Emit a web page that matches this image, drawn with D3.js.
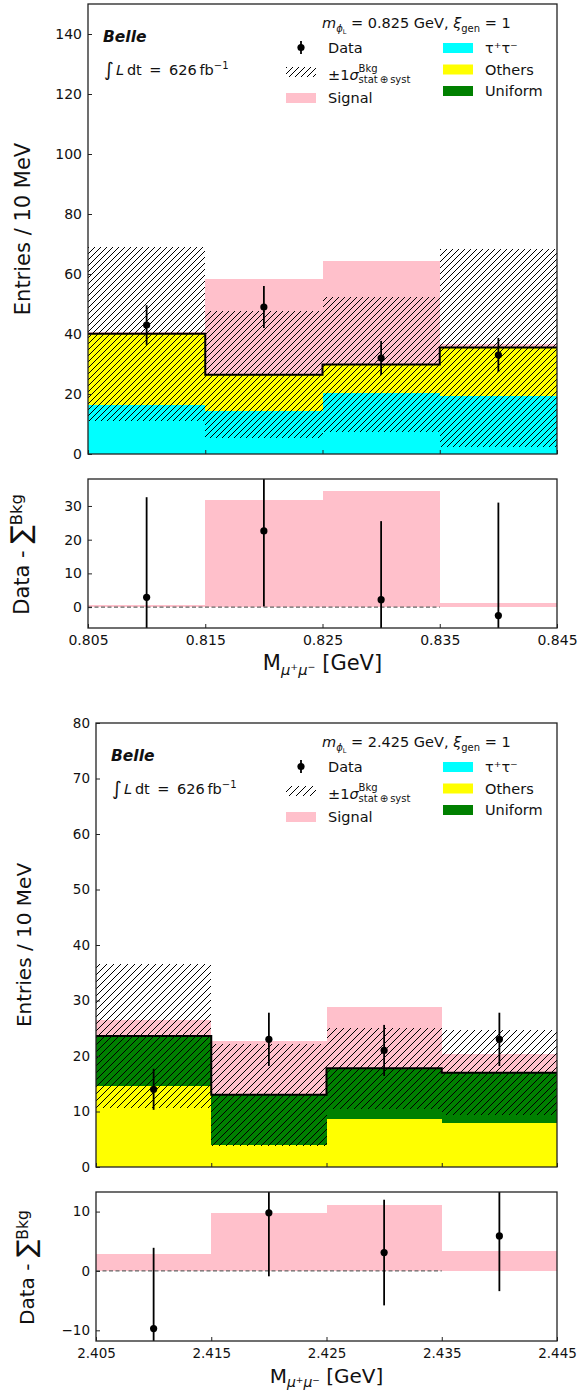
<!DOCTYPE html>
<html><head><meta charset="utf-8">
<script src="https://cdn.jsdelivr.net/npm/d3@7"></script>
<style>body{margin:0;background:#fff} text{font-family:'DejaVu Sans',sans-serif;fill:#111}</style>
</head><body><svg id="c" width="578" height="1390"></svg>
<script>
// ---------- Figure 1 data (m = 0.825 GeV) ----------
const binEdges1 = [0.805, 0.815, 0.825, 0.835, 0.845];
const tautau1 = [16.5, 14.3, 20.3, 19.4];
const others1 = [23.6, 12.1, 9.5, 16.1];
const uniform1 = [0, 0, 0, 0];
const bkgSigma1 = [29.0, 21.2, 22.6, 33.0];
const signal1 = [0.7, 31.8, 34.5, 1.2];
const data1 = [43, 49, 32, 33];
const dataErr1 = [6.6, 7.0, 5.7, 5.7];
const resid1 = [2.9, 22.6, 2.2, -2.5];
const residErr1 = [29.7, 22.4, 23.3, 33.5];
const yTicksMain1 = [0, 20, 40, 60, 80, 100, 120, 140];
const yTicksRatio1 = [0, 10, 20, 30];
const xTickLabels1 = ["0.805", "0.815", "0.825", "0.835", "0.845"];
const massLabel1 = "0.825";

// ---------- Figure 2 data (m = 2.425 GeV) ----------
const binEdges2 = [2.405, 2.415, 2.425, 2.435, 2.445];
const tautau2 = [0, 0, 0, 0];
const others2 = [14.6, 4.0, 8.7, 8.0];
const uniform2 = [9.0, 9.0, 9.1, 9.0];
const bkgSigma2 = [13.0, 9.2, 7.3, 7.6];
const signal2 = [2.8, 9.7, 11.1, 3.4];
const data2 = [14, 23, 21, 23];
const dataErr2 = [3.7, 4.8, 4.6, 4.8];
const resid2 = [-9.7, 9.8, 3.1, 5.9];
const residErr2 = [13.6, 10.7, 8.9, 9.3];
const yTicksMain2 = [0, 10, 20, 30, 40, 50, 60, 70, 80];
const yTicksRatio2 = [-10, 0, 10];
const xTickLabels2 = ["2.405", "2.415", "2.425", "2.435", "2.445"];
const massLabel2 = "2.425";

const COLORS = {tau: "#00ffff", oth: "#ffff00", uni: "#008000", sig: "#ffc0cb"};

const svg = d3.select("#c");
svg.append("rect").attr("width", 578).attr("height", 1390).attr("fill", "#fff");
const defs = svg.append("defs");

function hatchPattern(id, s) {
  const p = defs.append("pattern").attr("id", id).attr("patternUnits", "userSpaceOnUse")
    .attr("width", s).attr("height", s);
  p.append("path")
    .attr("d", `M0,${s} L${s},0 M${-s/2},${s/2} L${s/2},${-s/2} M${s/2},${s*1.5} L${s*1.5},${s/2}`)
    .attr("stroke", "#000").attr("stroke-width", 1).attr("fill", "none");
}
hatchPattern("h1", 6);
hatchPattern("h2", 7);

function richText(parent, x, y, segs, opts = {}) {
  const t = parent.append("text").attr("x", x).attr("y", y);
  if (opts.anchor) t.attr("text-anchor", opts.anchor);
  if (opts.transform) t.attr("transform", opts.transform);
  let cur = 0;
  const nodes = [];
  segs.forEach(s => {
    const sh = s.shift || 0;
    const ts = t.append("tspan").text(s.t).attr("font-size", s.size).attr("dy", -(sh - cur));
    cur = sh;
    if (s.italic) ts.attr("font-style", "italic");
    if (s.bold) ts.attr("font-weight", "bold");
    if (s.dx !== undefined) ts.attr("dx", s.dx);
    nodes.push(ts);
  });
  return {t, nodes};
}

function drawFigure(cfg, idx) {
  const g = svg.append("g");
  const E = cfg.edges;
  const x = d3.scaleLinear().domain([E[0], E[4]]).range([cfg.left, cfg.right]);
  const y = d3.scaleLinear().domain(cfg.mainY).range([cfg.mainBottom, cfg.mainTop]);
  const yr = d3.scaleLinear().domain(cfg.ratioY).range([cfg.ratioBottom, cfg.ratioTop]);

  const clipM = "clipM" + idx, clipR = "clipR" + idx;
  defs.append("clipPath").attr("id", clipM).append("rect")
    .attr("x", cfg.left).attr("y", cfg.mainTop).attr("width", cfg.right - cfg.left).attr("height", cfg.mainBottom - cfg.mainTop);
  defs.append("clipPath").attr("id", clipR).append("rect")
    .attr("x", cfg.left).attr("y", cfg.ratioTop).attr("width", cfg.right - cfg.left).attr("height", cfg.ratioBottom - cfg.ratioTop);

  const bins = d3.range(4).map(i => ({
    i, x0: E[i], x1: E[i + 1], tau: cfg.tau[i], oth: cfg.oth[i], uni: cfg.uni[i],
    sigma: cfg.sigma[i], signal: cfg.signal[i], data: cfg.data[i], dataErr: cfg.dataErr[i],
    resid: cfg.resid[i], residErr: cfg.residErr[i]
  }));
  bins.forEach(b => b.total = b.tau + b.oth + b.uni);

  const gm = g.append("g").attr("clip-path", `url(#${clipM})`);
  const layers = d3.stack().keys(["tau", "oth", "uni"])(bins);
  layers.forEach(layer => {
    gm.selectAll(null).data(layer).join("rect")
      .attr("x", d => x(d.data.x0)).attr("width", d => x(d.data.x1) - x(d.data.x0))
      .attr("y", d => y(d[1])).attr("height", d => Math.max(0, y(d[0]) - y(d[1])))
      .attr("fill", COLORS[layer.key]).attr("shape-rendering", "crispEdges");
  });
  // signal stacked on total background
  gm.selectAll(null).data(bins).join("rect")
    .attr("x", d => x(d.x0)).attr("width", d => x(d.x1) - x(d.x0))
    .attr("y", d => y(d.total + d.signal)).attr("height", d => y(d.total) - y(d.total + d.signal))
    .attr("fill", COLORS.sig).attr("shape-rendering", "crispEdges");
  // hatched uncertainty band
  gm.selectAll(null).data(bins).join("rect")
    .attr("x", d => x(d.x0)).attr("width", d => x(d.x1) - x(d.x0))
    .attr("y", d => y(d.total + d.sigma)).attr("height", d => y(d.total - d.sigma) - y(d.total + d.sigma))
    .attr("fill", `url(#${cfg.hatch})`).attr("shape-rendering", "crispEdges");
  // total step line
  const stepPts = bins.map(b => [b.x0, b.total]).concat([[E[4], bins[3].total]]);
  gm.append("path").datum(stepPts)
    .attr("d", d3.line().x(d => x(d[0])).y(d => y(d[1])).curve(d3.curveStepAfter))
    .attr("fill", "none").attr("stroke", "#000").attr("stroke-width", 2);
  // data points
  const xc = d => x((d.x0 + d.x1) / 2);
  gm.selectAll(null).data(bins).join("line")
    .attr("x1", xc).attr("x2", xc)
    .attr("y1", d => y(d.data - d.dataErr)).attr("y2", d => y(d.data + d.dataErr))
    .attr("stroke", "#000").attr("stroke-width", 1.8);
  gm.selectAll(null).data(bins).join("circle")
    .attr("cx", xc).attr("cy", d => y(d.data)).attr("r", 3.6).attr("fill", "#000");

  // main axes
  const tk = cfg.tickSize;
  g.append("g").attr("transform", `translate(${cfg.left},0)`)
    .call(d3.axisLeft(y).tickValues(cfg.yTicksMain).tickSize(-4).tickPadding(6).tickFormat(d3.format("d")))
    .call(a => a.select(".domain").remove())
    .call(a => a.selectAll("text").attr("font-size", tk).attr("font-family", "DejaVu Sans").attr("fill", "#222"))
    .call(a => a.selectAll("line").attr("stroke", "#222"));
  g.append("g").attr("transform", `translate(0,${cfg.mainBottom})`)
    .call(d3.axisBottom(x).tickValues(E).tickSize(-4).tickFormat(""))
    .call(a => a.select(".domain").remove())
    .call(a => a.selectAll("line").attr("stroke", "#222"));
  g.append("rect").attr("x", cfg.left).attr("y", cfg.mainTop)
    .attr("width", cfg.right - cfg.left).attr("height", cfg.mainBottom - cfg.mainTop)
    .attr("fill", "none").attr("stroke", "#222").attr("stroke-width", 1.3);

  // ratio panel
  const gr = g.append("g").attr("clip-path", `url(#${clipR})`);
  gr.selectAll(null).data(bins).join("rect")
    .attr("x", d => x(d.x0)).attr("width", d => x(d.x1) - x(d.x0))
    .attr("y", d => yr(Math.max(0, d.signal))).attr("height", d => Math.abs(yr(0) - yr(d.signal)))
    .attr("fill", COLORS.sig).attr("shape-rendering", "crispEdges");
  gr.append("line").attr("x1", x(E[0])).attr("x2", x(E[3])).attr("y1", yr(0)).attr("y2", yr(0))
    .attr("stroke", "#666").attr("stroke-width", 1.2).attr("stroke-dasharray", "4,2.5");
  gr.selectAll(null).data(bins).join("line")
    .attr("x1", xc).attr("x2", xc)
    .attr("y1", d => yr(d.resid - d.residErr)).attr("y2", d => yr(d.resid + d.residErr))
    .attr("stroke", "#000").attr("stroke-width", 1.8);
  gr.selectAll(null).data(bins).join("circle")
    .attr("cx", xc).attr("cy", d => yr(d.resid)).attr("r", 3.6).attr("fill", "#000");

  g.append("g").attr("transform", `translate(${cfg.left},0)`)
    .call(d3.axisLeft(yr).tickValues(cfg.yTicksRatio).tickSize(-4).tickPadding(6).tickFormat(d3.format("d")))
    .call(a => a.select(".domain").remove())
    .call(a => a.selectAll("text").attr("font-size", tk).attr("font-family", "DejaVu Sans").attr("fill", "#222"))
    .call(a => a.selectAll("line").attr("stroke", "#222"));
  g.append("g").attr("transform", `translate(0,${cfg.ratioBottom})`)
    .call(d3.axisBottom(x).tickValues(E).tickSize(-4).tickPadding(7).tickFormat((d, i) => cfg.xLabels[i]))
    .call(a => a.select(".domain").remove())
    .call(a => a.selectAll("text").attr("font-size", tk).attr("font-family", "DejaVu Sans").attr("fill", "#222"))
    .call(a => a.selectAll("line").attr("stroke", "#222"));
  g.append("rect").attr("x", cfg.left).attr("y", cfg.ratioTop)
    .attr("width", cfg.right - cfg.left).attr("height", cfg.ratioBottom - cfg.ratioTop)
    .attr("fill", "none").attr("stroke", "#222").attr("stroke-width", 1.3);

  // axis labels
  const L = cfg.labelSize;
  g.append("text").attr("transform", `translate(${cfg.yLabelX},${(cfg.mainTop + cfg.mainBottom) / 2}) rotate(-90)`)
    .attr("text-anchor", "middle").attr("font-size", L).text("Entries / 10 MeV");
  richText(g, 0, 0, [
    {t: "Data - ", size: L},
    {t: "∑", size: L * 1.3, shift: -1},
    {t: "Bkg", size: L * 0.78, shift: L * 0.32}
  ], {anchor: "middle", transform: `translate(${cfg.rLabelX},${(cfg.ratioTop + cfg.ratioBottom) / 2 + 1}) rotate(-90)`});
  richText(g, (cfg.left + cfg.right) / 2, cfg.ratioBottom + cfg.xLabelDy, [
    {t: "M", size: L},
    {t: "μ", size: L * 0.7, italic: true, shift: -L * 0.22},
    {t: "+", size: L * 0.45, shift: L * 0.0},
    {t: "μ", size: L * 0.7, italic: true, shift: -L * 0.22},
    {t: "−", size: L * 0.45, shift: L * 0.0},
    {t: " [GeV]", size: L, shift: 0}
  ], {anchor: "middle"});

  // annotations
  const F = 14.5, T = cfg.mainTop;
  g.append("text").attr("x", cfg.left + 15).attr("y", T + 38).attr("font-size", 15.5)
    .attr("font-weight", "bold").attr("font-style", "italic").text("Belle");
  richText(g, cfg.left + 16, T + 71, [
    {t: "∫", size: 19, shift: -1},
    {t: "L", size: F, italic: true, shift: 0, dx: 2},
    {t: "\u2009dt\u00a0\u2009=\u00a0\u2009626\u2009fb", size: F},
    {t: "−1", size: 10, shift: 6}
  ]);
  richText(g, 322, T + 24, [
    {t: "m", size: F, italic: true},
    {t: "ϕ", size: 10, italic: true, shift: -3.5},
    {t: "L", size: 6.5, shift: -5.5},
    {t: " = " + cfg.mass + " GeV, ", size: F, shift: 0},
    {t: "ξ", size: F, italic: true},
    {t: "gen", size: 10, shift: -3.5},
    {t: " = 1", size: F, shift: 0}
  ]);
  // legend column 1
  const lx = 286, ltx = 328;
  g.append("line").attr("x1", 301).attr("x2", 301).attr("y1", T + 37).attr("y2", T + 50)
    .attr("stroke", "#000").attr("stroke-width", 1.8);
  g.append("circle").attr("cx", 301).attr("cy", T + 43.5).attr("r", 3.6).attr("fill", "#000");
  g.append("text").attr("x", ltx).attr("y", T + 48.5).attr("font-size", F).text("Data");
  g.append("rect").attr("x", lx).attr("y", T + 63).attr("width", 30).attr("height", 10)
    .attr("fill", `url(#${cfg.hatch})`);
  const sg = richText(g, ltx, T + 76, [
    {t: "±1", size: F},
    {t: "σ", size: F, italic: true},
    {t: "Bkg", size: 10, shift: 8},
    {t: "stat\u2009⊕\u2009syst", size: 10, shift: -3}
  ]);
  const wB = sg.nodes[2].node().getComputedTextLength();
  sg.nodes[3].attr("dx", -wB);
  g.append("rect").attr("x", lx).attr("y", T + 89).attr("width", 30).attr("height", 10).attr("fill", COLORS.sig);
  g.append("text").attr("x", ltx).attr("y", T + 98.5).attr("font-size", F).text("Signal");
  // legend column 2
  const items = [["tau", "τ⁺τ⁻"], ["oth", "Others"], ["uni", "Uniform"]];
  items.forEach((it, k) => {
    const cy = T + 44 + k * 21.5;
    g.append("rect").attr("x", 443).attr("y", cy - 5).attr("width", 30).attr("height", 10).attr("fill", COLORS[it[0]]);
    g.append("text").attr("x", 485).attr("y", cy + 5).attr("font-size", F).text(it[1]);
  });
}

drawFigure({
  edges: binEdges1, tau: tautau1, oth: others1, uni: uniform1, sigma: bkgSigma1, signal: signal1,
  data: data1, dataErr: dataErr1, resid: resid1, residErr: residErr1,
  yTicksMain: yTicksMain1, yTicksRatio: yTicksRatio1, xLabels: xTickLabels1, mass: massLabel1,
  left: 88, right: 557, mainTop: 4, mainBottom: 454, mainY: [0, 150],
  ratioTop: 479, ratioBottom: 628, ratioY: [-6.2, 38],
  hatch: "h1", tickSize: 14, labelSize: 21, yLabelX: 30, rLabelX: 29, xLabelDy: 42
}, 1);

drawFigure({
  edges: binEdges2, tau: tautau2, oth: others2, uni: uniform2, sigma: bkgSigma2, signal: signal2,
  data: data2, dataErr: dataErr2, resid: resid2, residErr: residErr2,
  yTicksMain: yTicksMain2, yTicksRatio: yTicksRatio2, xLabels: xTickLabels2, mass: massLabel2,
  left: 96, right: 557, mainTop: 723, mainBottom: 1167, mainY: [0, 80],
  ratioTop: 1192, ratioBottom: 1341, ratioY: [-11.8, 13.3],
  hatch: "h2", tickSize: 13.5, labelSize: 20, yLabelX: 31, rLabelX: 34, xLabelDy: 42
}, 2);
</script></body></html>
